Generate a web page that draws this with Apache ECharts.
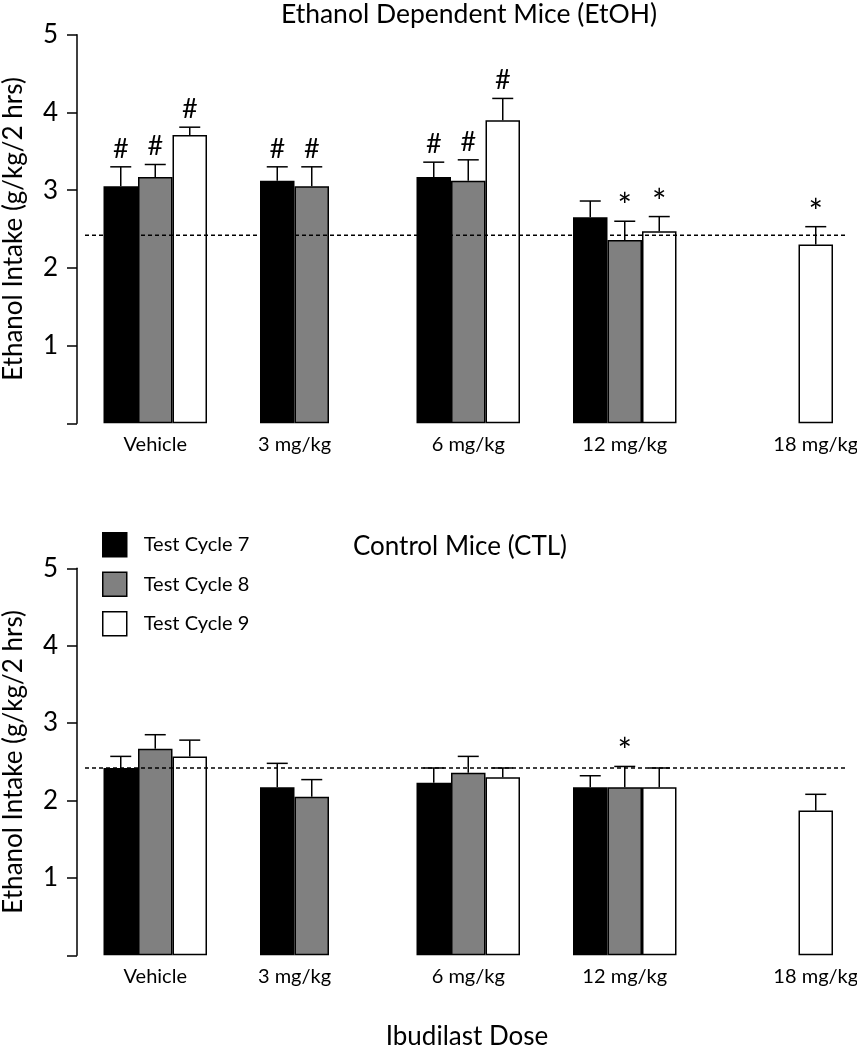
<!DOCTYPE html>
<html><head><meta charset="utf-8">
<script src="https://cdn.jsdelivr.net/npm/echarts@6/dist/echarts.min.js"></script>
<style>html,body{margin:0;padding:0;background:#fff}#c{width:857px;height:1050px}</style>
</head><body><div id="c"></div>
<script>
// ---------- data ----------
const categories = ['Vehicle', '3 mg/kg', '6 mg/kg', '12 mg/kg', '18 mg/kg'];
const seriesNames = ['Test Cycle 7', 'Test Cycle 8', 'Test Cycle 9'];
const yTickMax = 5;
const baselineValue = 2.42;

// Ethanol Dependent Mice (EtOH)
const etohCycle7 = [3.05, 3.12, 3.17, 2.65, null];
const etohErr7   = [0.25, 0.18, 0.19, 0.21, null];
const etohCycle8 = [3.17, 3.05, 3.12, 2.36, null];
const etohErr8   = [0.16, 0.25, 0.27, 0.24, null];
const etohCycle9 = [3.71, null, 3.90, 2.47, 2.30];
const etohErr9   = [0.10, null, 0.28, 0.19, 0.23];
const etohMarks7 = ['#', '#', '#', '', ''];
const etohMarks8 = ['#', '#', '#', '*', ''];
const etohMarks9 = ['#', '', '#', '*', '*'];

// Control Mice (CTL)
const ctlCycle7 = [2.42, 2.17, 2.23, 2.17, null];
const ctlErr7   = [0.15, 0.31, 0.19, 0.15, null];
const ctlCycle8 = [2.67, 2.05, 2.36, 2.17, null];
const ctlErr8   = [0.18, 0.22, 0.21, 0.27, null];
const ctlCycle9 = [2.57, null, 2.30, 2.17, 1.87];
const ctlErr9   = [0.21, null, 0.12, 0.25, 0.21];
const ctlMarks7 = ['', '', '', '', ''];
const ctlMarks8 = ['', '', '', '*', ''];
const ctlMarks9 = ['', '', '', '', ''];

// ---------- styles ----------
const FONT = 'Lato';
const BAR_W = 34.5;
const CAP = 10.5;
const colors = ['#000000', '#808080', '#ffffff'];

const panels = [
  {vals: [etohCycle7, etohCycle8, etohCycle9], errs: [etohErr7, etohErr8, etohErr9], marks: [etohMarks7, etohMarks8, etohMarks9]},
  {vals: [ctlCycle7, ctlCycle8, ctlCycle9], errs: [ctlErr7, ctlErr8, ctlErr9], marks: [ctlMarks7, ctlMarks8, ctlMarks9]}
];

// label shift: center each label on the bars present in its group
function catLabels(vals) {
  return categories.map((c, i) => {
    const slots = [];
    vals.forEach((v, s) => { if (v[i] != null) slots.push(s - 1); });
    const shift = slots.reduce((a, b) => a + b, 0) / slots.length * BAR_W;
    const pad = shift > 0 ? [0, 0, 0, 2 * shift] : [0, -2 * shift, 0, 0];
    return {value: c, textStyle: {padding: pad}};
  });
}

function errRender(slot, marks) {
  return function (params, api) {
    const ci = api.value(0), m = api.value(1), e = api.value(2);
    if (isNaN(m) || isNaN(e)) return null;
    const p0 = api.coord([ci, m]);
    const p1 = api.coord([ci, m + e]);
    const x = p0[0] + (slot - 1) * BAR_W;
    const children = [
      {type: 'line', shape: {x1: x, y1: p0[1], x2: x, y2: p1[1]}, style: {stroke: '#000', lineWidth: 1.5}},
      {type: 'line', shape: {x1: x - CAP, y1: p1[1], x2: x + CAP, y2: p1[1]}, style: {stroke: '#000', lineWidth: 1.5}}
    ];
    const mk = marks[params.dataIndex];
    if (mk === '#') {
      children.push({type: 'text', style: {text: mk, x: x, y: p1[1] - 18, align: 'center', verticalAlign: 'middle', fontSize: 27, fontFamily: FONT, fill: '#000'}});
    } else if (mk) {
      children.push({type: 'text', style: {text: mk, x: x, y: p1[1] - 14, align: 'center', verticalAlign: 'middle', fontSize: 34, fontFamily: FONT, fill: '#000'}});
    }
    return {type: 'group', children: children};
  };
}

// dashed reference line (baseline intake), slightly inset from the plot edges
function baselineRender(params, api) {
  const cs = params.coordSys;
  const y = api.coord([0, api.value(1)])[1];
  return {
    type: 'line', z2: 10,
    shape: {x1: cs.x + 8, y1: y, x2: cs.x + cs.width - 14.5, y2: y},
    style: {stroke: '#000', lineWidth: 1.5, lineDash: [4, 3]}
  };
}

const grids = [
  {left: 77, width: 782.5, top: 34.7, height: 388.6, containLabel: false, outerBoundsMode: 'none'},
  {left: 77, width: 782.5, top: 568.3, height: 387, containLabel: false, outerBoundsMode: 'none'}
];

const xAxes = [], yAxes = [], series = [];
panels.forEach((p, gi) => {
  xAxes.push({
    type: 'category', gridIndex: gi, data: catLabels(p.vals),
    axisLine: {show: false}, axisTick: {show: false},
    axisLabel: {fontSize: 20, fontFamily: FONT, color: '#000', margin: 11, interval: 0}
  });
  yAxes.push({
    type: 'value', gridIndex: gi, min: 0, max: yTickMax, interval: 1,
    name: 'Ethanol Intake (g/kg/2 hrs)', nameLocation: 'middle', nameGap: 50,
    nameTextStyle: {fontSize: 26, fontFamily: FONT, color: '#000'},
    axisLine: {show: true, lineStyle: {color: '#000', width: 1.5}},
    axisTick: {show: true, length: 10, lineStyle: {color: '#000', width: 1.5}},
    splitLine: {show: false},
    axisLabel: {fontSize: 26, fontFamily: FONT, color: '#000', margin: 19, formatter: v => v === 0 ? '' : String(v)}
  });
  p.vals.forEach((vals, s) => {
    series.push({
      type: 'bar', name: seriesNames[s], xAxisIndex: gi, yAxisIndex: gi,
      data: vals, barWidth: BAR_W, barGap: '0%',
      itemStyle: {color: colors[s], borderColor: '#000', borderWidth: 1.5},
      emphasis: {disabled: true}, silent: true
    });
  });
  series.push({
    type: 'custom', name: 'baseline' + gi, xAxisIndex: gi, yAxisIndex: gi, z: 4,
    renderItem: baselineRender, encode: {x: 0, y: 1},
    data: [[0, baselineValue]], silent: true
  });
  p.vals.forEach((vals, s) => {
    series.push({
      type: 'custom', name: 'err' + gi + s, xAxisIndex: gi, yAxisIndex: gi, z: 5,
      renderItem: errRender(s, p.marks[s]),
      encode: {x: 0, y: 1},
      data: categories.map((c, i) => [i, vals[i], p.errs[s][i]]),
      silent: true
    });
  });
});

const chart = echarts.init(document.getElementById('c'), null, {renderer: 'canvas'});
chart.setOption({
  animation: false,
  backgroundColor: '#fff',
  textStyle: {fontFamily: FONT},
  title: [
    {text: 'Ethanol Dependent Mice (EtOH)', left: 469, top: 1, textAlign: 'center', padding: 0,
     textStyle: {fontSize: 26.5, fontWeight: 'normal', fontFamily: FONT, color: '#000'}},
    {text: 'Control Mice (CTL)', left: 460, top: 534, textAlign: 'center', padding: 0,
     textStyle: {fontSize: 26, fontWeight: 'normal', fontFamily: FONT, color: '#000'}},
    {text: 'Ibudilast Dose', left: 467, top: 1024, textAlign: 'center', padding: 0,
     textStyle: {fontSize: 26, fontWeight: 'normal', fontFamily: FONT, color: '#000'}}
  ],
  legend: {
    data: seriesNames, orient: 'vertical', left: 102, top: 532, padding: 0,
    itemWidth: 24, itemHeight: 24, itemGap: 14, icon: 'rect',
    itemStyle: {borderColor: '#000', borderWidth: 1.5},
    textStyle: {fontSize: 20, fontFamily: FONT, color: '#000', padding: [0, 0, 0, 12]},
    selectedMode: false
  },
  grid: grids,
  xAxis: xAxes,
  yAxis: yAxes,
  series: series
});
</script>
</body></html>
